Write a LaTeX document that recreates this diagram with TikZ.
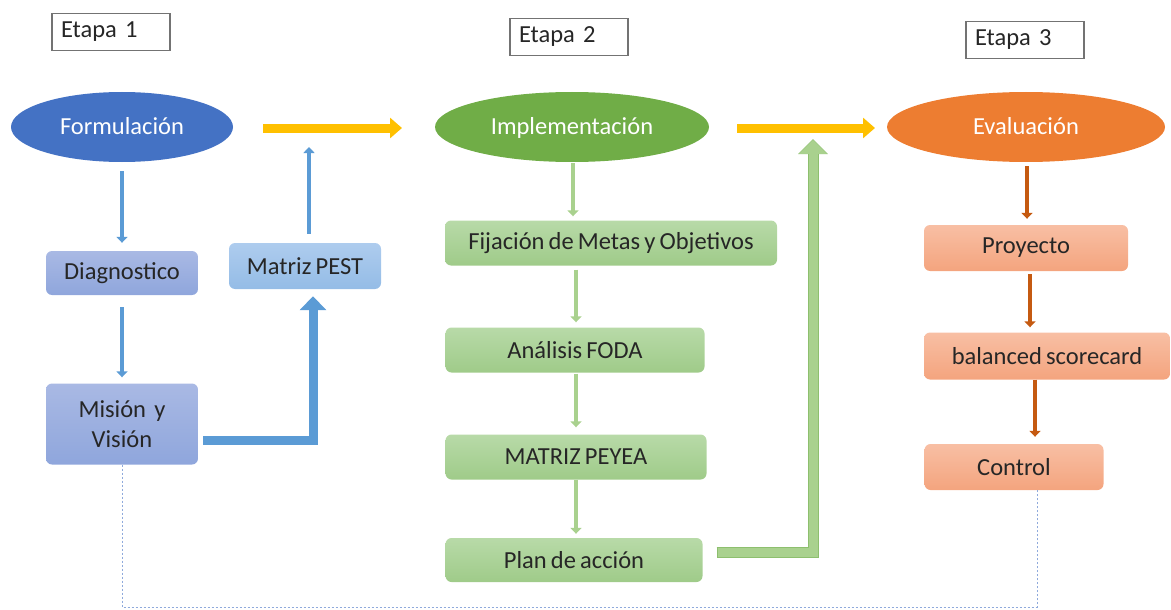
\documentclass[tikz,border=0pt]{standalone}
\usepackage{fontspec}
\setmainfont{Carlito}[WordSpace=0.75]
\usetikzlibrary{shapes.geometric,arrows.meta}
\definecolor{cblue}{HTML}{4472C4}
\definecolor{cgreen}{HTML}{70AD47}
\definecolor{corange}{HTML}{ED7D31}
\definecolor{cyellow}{HTML}{FFC000}
\definecolor{ablue}{HTML}{5B9BD5}
\definecolor{agreen}{HTML}{A9D18E}
\definecolor{agreenedge}{HTML}{8DBF6E}
\definecolor{aorange}{HTML}{C55A11}
\definecolor{dotblue}{HTML}{8FAADC}
\definecolor{txt}{HTML}{262626}
\definecolor{bbtop}{HTML}{A9B9E4}
\definecolor{bbbot}{HTML}{8FA6DC}
\definecolor{pbtop}{HTML}{AECCEE}
\definecolor{pbbot}{HTML}{94BCE6}
\definecolor{gbtop}{HTML}{B8DAA8}
\definecolor{gbbot}{HTML}{9FCB89}
\definecolor{obtop}{HTML}{F8BFA4}
\definecolor{obbot}{HTML}{F4A47E}
\tikzset{
  lbl/.style={font=\fontsize{24.5}{28}\selectfont},
  etapa/.style={draw=gray!90!black, line width=1.2pt, fill=white, lbl, text=txt, minimum width=118pt, minimum height=37pt, inner sep=0pt, text width=100pt, align=left},
  phase/.style={ellipse, inner sep=0pt, lbl, text=white, text height=19pt, text depth=3pt},
  boxbase/.style={rounded corners=6pt, inner sep=0pt, lbl, text=txt, align=center},
  bluebox/.style={boxbase, top color=bbtop, bottom color=bbbot},
  pestbox/.style={boxbase, top color=pbtop, bottom color=pbbot},
  greenbox/.style={boxbase, top color=gbtop, bottom color=gbbot},
  orangebox/.style={boxbase, top color=obtop, bottom color=obbot},
  thinblue/.style={draw=ablue, line width=4pt, -{Triangle[width=11pt,length=6pt]}},
  thingreen/.style={draw=agreen, line width=4pt, -{Triangle[width=11pt,length=6pt]}},
  thinorange/.style={draw=aorange, line width=4pt, -{Triangle[width=11pt,length=6pt]}},
  fatyellow/.style={draw=cyellow, line width=9pt, -{Triangle[width=20pt,length=12pt]}},
  fatblue/.style={draw=ablue, line width=9pt, -{Triangle[width=26pt,length=14pt]}},
  fatgreen/.style={draw=agreen, line width=9pt, -{Triangle[width=27pt,length=14pt]}},
  dotline/.style={draw=dotblue, line width=0.9pt, dash pattern=on 2pt off 2pt},
}
\begin{document}
\begin{tikzpicture}[x=1pt,y=-1pt]
\useasboundingbox (0,0) rectangle (1171,610);
% stage labels
\node[etapa] (e1) at (111,32) {Etapa 1};
\node[etapa] (e2) at (569,37) {Etapa 2};
\node[etapa] (e3) at (1025,40) {Etapa 3};
% phases
\node[phase, fill=cblue, minimum width=222pt, minimum height=70pt] (formu) at (122,127) {Formulación};
\node[phase, fill=cgreen, minimum width=274pt, minimum height=70pt] (impl) at (572,127) {Implementación};
\node[phase, fill=corange, minimum width=278pt, minimum height=70pt] (eval) at (1026,127) {Evaluación};
% stage 1 boxes
\node[bluebox, minimum width=152pt, minimum height=44pt] (diag) at (122,273) {Diagnostico};
\node[bluebox, minimum width=152pt, minimum height=81pt, text width=140pt] (mision) at (122,424) {Misión y\\[2pt]Visión};
\node[pestbox, minimum width=152pt, minimum height=46pt] (pest) at (305,266) {Matriz PEST};
% stage 2 boxes
\node[greenbox, minimum width=332pt, minimum height=45pt] (fij) at (611,243) {Fijación de Metas y Objetivos};
\node[greenbox, minimum width=259pt, minimum height=45pt] (foda) at (575,350) {Análisis FODA};
\node[greenbox, minimum width=261pt, minimum height=45pt] (peyea) at (576,457) {MATRIZ PEYEA};
\node[greenbox, minimum width=257pt, minimum height=44pt] (plan) at (574,560) {Plan de acción};
% stage 3 boxes
\node[orangebox, minimum width=204pt, minimum height=46pt] (proy) at (1026,248) {Proyecto};
\node[orangebox, minimum width=246pt, minimum height=47pt] (bsc) at (1047,356) {balanced scorecard};
\node[orangebox, minimum width=179pt, minimum height=46pt] (ctrl) at (1014,467) {Control};
% free ends
\coordinate (y1s) at (263,128);
\coordinate (y1e) at (402,128);
\coordinate (y2s) at (737,128);
\coordinate (y2e) at (875,128);
\coordinate (pestup) at (309,147);
\coordinate (gup) at (813,139);
% dotted feedback line
\draw[dotline] (mision.south) -- (122,607) -| ([xshift=23pt]ctrl.south);
% arrows between phases
\draw[fatyellow] (y1s) -- (y1e);
\draw[fatyellow] (y2s) -- (y2e);
% stage 1
\draw[thinblue] ([yshift=-9pt]formu.south) -- ([yshift=8pt]diag.north);
\draw[thinblue] ([yshift=-12pt]diag.south) -- ([yshift=6pt]mision.north);
\draw[fatblue] ([xshift=5pt,yshift=-16pt]mision.east) -| ([xshift=8pt,yshift=-7pt]pest.south);
\draw[thinblue] ([xshift=4pt,yshift=9pt]pest.north) -- (pestup);
% stage 2
\draw[thingreen] ([xshift=1pt,yshift=-1pt]impl.south) -- ([xshift=-38pt,yshift=4pt]fij.north);
\draw[thingreen] ([xshift=-35pt,yshift=-4pt]fij.south) -- ([xshift=1pt,yshift=5pt]foda.north);
\draw[thingreen] ([xshift=1pt,yshift=-1pt]foda.south) -- ([yshift=7pt]peyea.north);
\draw[thingreen] (peyea.south) -- ([xshift=2pt,yshift=4pt]plan.north);
\draw[draw=agreenedge, line width=11pt, -{Triangle[width=29pt,length=15pt]}] ([xshift=14pt,yshift=8pt]plan.east) -| (gup);
\draw[fatgreen, shorten >=0.8pt] ([xshift=15pt,yshift=8pt]plan.east) -| (gup);
% stage 3
\draw[thinorange] ([xshift=1pt,yshift=-4pt]eval.south) -- ([xshift=1pt,yshift=6pt]proy.north);
\draw[thinorange] ([xshift=4pt,yshift=-3pt]proy.south) -- ([xshift=-17pt,yshift=5pt]bsc.north);
\draw[thinorange] ([xshift=-12pt]bsc.south) -- ([xshift=21pt,yshift=7pt]ctrl.north);
\end{tikzpicture}
\end{document}
